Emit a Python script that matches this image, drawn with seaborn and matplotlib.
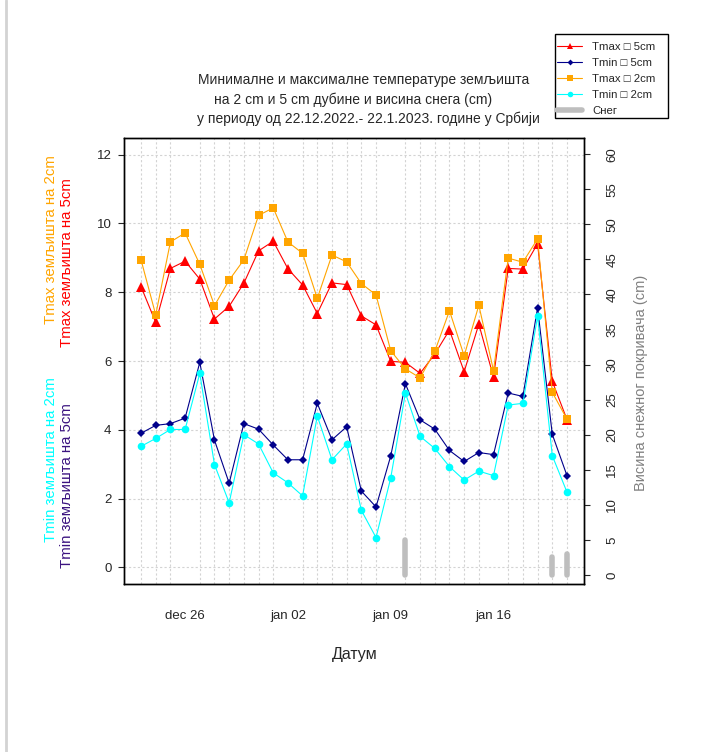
import numpy as np
import pandas as pd
import matplotlib
matplotlib.use("Agg")
import matplotlib.pyplot as plt
from matplotlib.lines import Line2D
from matplotlib.patches import Rectangle
import seaborn as sns

# ============================
# DATA
# ============================
dates = pd.date_range("2022-12-23", "2023-01-21", freq="D")

tmax_5cm = [8.16, 7.12, 8.69, 8.90, 8.38, 7.22, 7.59, 8.26, 9.20, 9.48,
            8.68, 8.21, 7.38, 8.27, 8.22, 7.31, 7.05, 5.99, 5.96, 5.64,
            6.20, 6.90, 5.69, 7.07, 5.53, 8.69, 8.67, 9.41, 5.41, 4.30]
tmin_5cm = [3.90, 4.13, 4.18, 4.34, 5.96, 3.70, 2.45, 4.18, 4.02, 3.56,
            3.13, 3.13, 4.77, 3.71, 4.09, 2.22, 1.76, 3.24, 5.34, 4.29,
            4.02, 3.40, 3.08, 3.34, 3.28, 5.07, 4.97, 7.55, 3.87, 2.67]
tmax_2cm = [8.94, 7.34, 9.46, 9.72, 8.81, 7.61, 8.35, 8.94, 10.23, 10.45,
            9.46, 9.13, 7.82, 9.08, 8.88, 8.25, 7.92, 6.30, 5.77, 5.51,
            6.28, 7.46, 6.15, 7.62, 5.72, 8.99, 8.87, 9.55, 5.09, 4.31]
tmin_2cm = [3.52, 3.75, 4.01, 4.01, 5.64, 2.99, 1.88, 3.86, 3.59, 2.75,
            2.46, 2.08, 4.40, 3.13, 3.59, 1.66, 0.87, 2.60, 5.07, 3.81,
            3.46, 2.93, 2.54, 2.80, 2.67, 4.72, 4.77, 7.30, 3.25, 2.19]
snow_cm = [np.nan, np.nan, np.nan, np.nan, np.nan, np.nan, np.nan, np.nan, np.nan, np.nan,
           np.nan, np.nan, np.nan, np.nan, np.nan, np.nan, np.nan, np.nan, 5.0, np.nan,
           np.nan, np.nan, np.nan, np.nan, np.nan, np.nan, np.nan, np.nan, 2.5, 3.0]

tick_dates = pd.to_datetime(["2022-12-26", "2023-01-02", "2023-01-09", "2023-01-16"])
tick_labels = ["dec 26", "jan 02", "jan 09", "jan 16"]

df = pd.DataFrame({"date": dates, "tmax_5cm": tmax_5cm, "tmin_5cm": tmin_5cm,
                   "tmax_2cm": tmax_2cm, "tmin_2cm": tmin_2cm, "snow": snow_cm})

# ============================
# STYLE
# ============================
sns.set_style("white")
plt.rcParams["font.family"] = ["Liberation Sans", "DejaVu Sans"]

W, H = 708, 752
fig = plt.figure(figsize=(W / 100, H / 100), dpi=100)
ax = fig.add_axes([124 / W, (H - 584) / H, 460 / W, 446 / H])

# ============================
# TEMPERATURE LINES
# ============================
sns.lineplot(data=df, x="date", y="tmax_5cm", ax=ax, color="red", lw=0.8,
             marker="^", markersize=7, markeredgewidth=0)
sns.lineplot(data=df, x="date", y="tmin_5cm", ax=ax, color="darkblue", lw=0.8,
             marker="D", markersize=4, markeredgewidth=0)
sns.lineplot(data=df, x="date", y="tmax_2cm", ax=ax, color="orange", lw=0.8,
             marker="s", markersize=6, markeredgewidth=0)
sns.lineplot(data=df, x="date", y="tmin_2cm", ax=ax, color="cyan", lw=0.8,
             marker="o", markersize=5.5, markeredgewidth=0)

pad = pd.Timedelta(days=1.16)
ax.set_xlim(dates[0] - pad, dates[-1] + pad)
ax.set_ylim(-0.48, 12.48)
ax.set_yticks(range(0, 13, 2))
ax.set_xticks(tick_dates)
ax.set_xticklabels(tick_labels)
ax.set_xticks(dates, minor=True)
ax.tick_params(axis="x", which="minor", length=0)
ax.tick_params(axis="x", which="major", length=4, width=0.8, pad=15, labelsize=9.5)
ax.tick_params(axis="y", length=4, width=0.8, pad=5, labelsize=9.5)
ax.grid(True, axis="x", which="minor", color="#d3d3d3", ls=(0, (2, 2)), lw=0.8)
ax.grid(True, axis="y", which="major", color="#d3d3d3", ls=(0, (2, 2)), lw=0.8)
ax.set_xlabel("")
ax.set_ylabel("")
for s in ax.spines.values():
    s.set_color("black")
    s.set_linewidth(1)

# ============================
# SNOW (right axis)
# ============================
ax2 = ax.twinx()
snow = df.dropna(subset=["snow"])
vl = ax2.vlines(snow["date"], 0, snow["snow"], color="#bebebe", lw=4)
vl.set_capstyle("round")
ax2.set_ylim(-1.3, 62.3)
ax2.set_yticks(range(0, 61, 5))
ax2.tick_params(axis="y", length=4, width=0.8, pad=12, labelsize=9.5)
for lab in ax2.get_yticklabels():
    lab.set_rotation(90)
    lab.set_va("center")
for s in ax2.spines.values():
    s.set_color("black")
    s.set_linewidth(1)

# ============================
# TEXT
# ============================
def fx(x):
    return x / W

def fy(y):
    return 1 - y / H

fs_title = 10
fig.text(fx(364), fy(80), "Минималне и максималне температуре земљишта", ha="center", va="center", fontsize=fs_title)
fig.text(fx(353), fy(100), "на 2 cm и 5 cm дубине и висина снега (cm)", ha="center", va="center", fontsize=fs_title)
fig.text(fx(368), fy(119), "у периоду од 22.12.2022.- 22.1.2023. године у Србији", ha="center", va="center", fontsize=fs_title)

fs_lab = 10.8
fig.text(fx(51), fy(240), "Tmax земљишта на 2cm", color="orange", rotation=90, ha="center", va="center", fontsize=fs_lab)
fig.text(fx(67), fy(263), "Tmax земљишта на 5cm", color="red", rotation=90, ha="center", va="center", fontsize=fs_lab)
fig.text(fx(51), fy(460), "Tmin земљишта на 2cm", color="cyan", rotation=90, ha="center", va="center", fontsize=fs_lab)
fig.text(fx(67), fy(486), "Tmin земљишта на 5cm", color="#3b1380", rotation=90, ha="center", va="center", fontsize=fs_lab)
fig.text(fx(641), fy(383), "Висина снежног покривача (cm)", color="gray", rotation=90, ha="center", va="center", fontsize=10.5)
fig.text(fx(355), fy(655), "Датум", ha="center", va="center", fontsize=11.5)

# ============================
# LEGEND
# ============================
handles = [
    Line2D([], [], color="red", lw=0.8, marker="^", markersize=5, markeredgewidth=0),
    Line2D([], [], color="darkblue", lw=0.8, marker="D", markersize=3, markeredgewidth=0),
    Line2D([], [], color="orange", lw=0.8, marker="s", markersize=4.5, markeredgewidth=0),
    Line2D([], [], color="cyan", lw=0.8, marker="o", markersize=4, markeredgewidth=0),
    Line2D([], [], color="#bebebe", lw=4),
]
labels = ["Tmax \u25a1 5cm", "Tmin \u25a1 5cm", "Tmax \u25a1 2cm", "Tmin \u25a1 2cm", "Снег"]
leg = fig.legend(handles, labels, loc="upper left", bbox_to_anchor=(fx(557), fy(42)),
                 fontsize=8.2, frameon=False, handlelength=2.2, labelspacing=0.52,
                 borderpad=0, handletextpad=0.9, borderaxespad=0)
fig.add_artist(Rectangle((fx(555), fy(118)), fx(668) - fx(555), fy(34) - fy(118),
                         fill=False, edgecolor="black", lw=1, transform=fig.transFigure))

# light frame line on the left edge
fig.add_artist(Line2D([fx(6), fx(6)], [0, 1], color="#d3d3d3", lw=2, transform=fig.transFigure))

fig.savefig("out.png", dpi=100)
